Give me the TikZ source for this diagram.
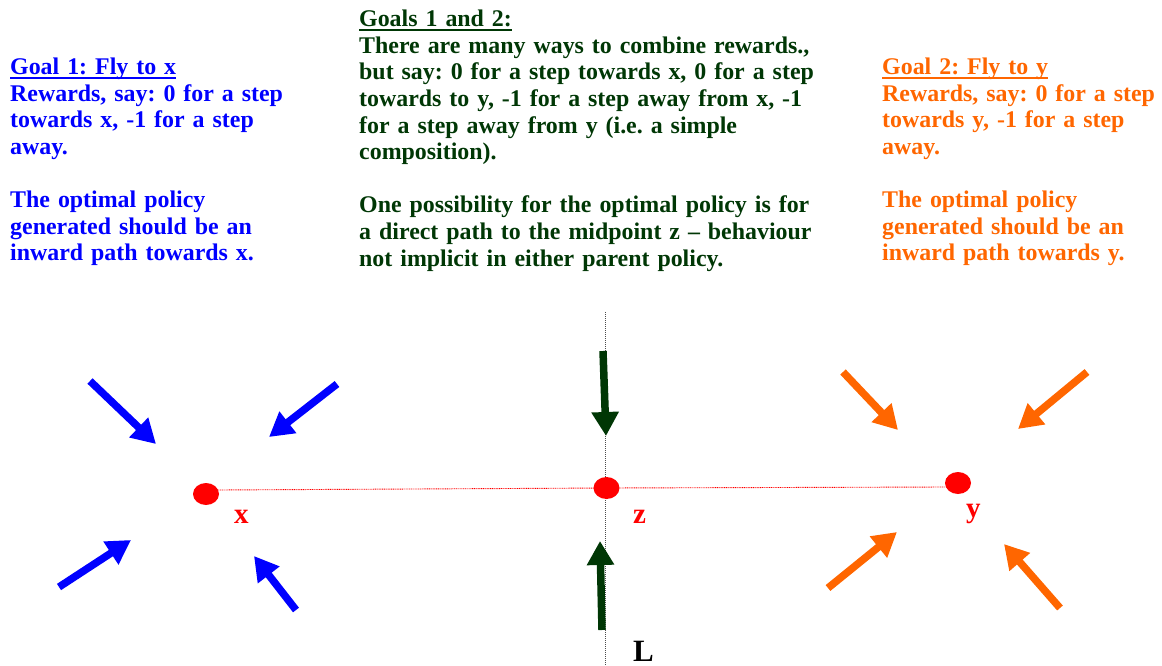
\documentclass[tikz,border=0pt]{standalone}
\usepackage{fontspec}
\setmainfont{Liberation Serif}
\usetikzlibrary{arrows.meta,shapes.geometric}
\definecolor{goalblue}{RGB}{0,0,255}
\definecolor{goalgreen}{RGB}{0,55,5}
\definecolor{goalorange}{RGB}{255,102,0}
\definecolor{dotred}{RGB}{255,0,0}
\newcommand{\goalul}[1]{\setbox0\hbox{#1}\rlap{\rule[-4.2pt]{\wd0}{2pt}}\box0}
\frenchspacing
\begin{document}
\begin{tikzpicture}[x=1pt,y=-1pt,
  txt/.style={anchor=base west, inner sep=0pt, align=left, text width=520pt,
    font=\fontsize{23.9}{26.6}\selectfont\bfseries\frenchspacing},
  dot/.style={ellipse, fill=dotred, draw=none, minimum width=26pt, minimum height=22pt, inner sep=0pt},
  lbl/.style={anchor=base west, inner sep=0pt, font=\fontsize{29}{30}\selectfont\bfseries},
  bigarrow/.style={line width=7.5pt, -{Triangle[width=26pt,length=24pt]}},
  bluearrow/.style={bigarrow, draw=goalblue},
  orangearrow/.style={bigarrow, draw=goalorange},
  greenarrow/.style={bigarrow, draw=goalgreen},
  reddots/.style={draw=dotred, line width=0.9pt, dash pattern=on 1pt off 0.8pt},
  greydots/.style={draw=black!70, line width=0.9pt, dash pattern=on 1pt off 1pt}]
\useasboundingbox (0,0) rectangle (1162,666);

% text blocks
\node[txt, text=goalblue] (goal1) at (10,74.5) {\goalul{Goal 1: Fly to x}\\
Rewards, say: 0 for a step\\
towards x, -1 for a step\\
away.\\[26.6pt]
The optimal policy\\
generated should be an\\
inward path towards x.};

\node[txt, text=goalgreen] (goal12) at (359,26.8) {\goalul{Goals 1 and 2:}\\
There are many ways to combine rewards.,\\
but say: 0 for a step towards x, 0 for a step\\
towards to y, -1 for a step away from x, -1\\
for a step away from y (i.e. a simple\\
composition).\\[26.6pt]
One possibility for the optimal policy is for\\
a direct path to the midpoint z -- behaviour\\
not implicit in either parent policy.};

\node[txt, text=goalorange] (goal2) at (882,74.5) {\goalul{Goal 2: Fly to y}\\
Rewards, say: 0 for a step\\
towards y, -1 for a step\\
away.\\[26.6pt]
The optimal policy\\
generated should be an\\
inward path towards y.};

% vertical line L
\coordinate (ltop) at (605,312);
\coordinate (lbot) at (605,666);
\draw[greydots] (ltop) -- (lbot);

% points
\node[dot] (x) at (206,494) {};
\node[dot] (z) at (606.5,488) {};
\node[dot] (y) at (958,483) {};
\draw[reddots] (x.18) -- (z.center) -- (y.198);

\node[lbl, text=dotred] (xl) at (234,523) {x};
\node[lbl, text=dotred] (zl) at (633,523) {z};
\node[lbl, text=dotred] (yl) at (966,517) {y};
\node[lbl, text=black, font=\fontsize{31}{32}\selectfont\bfseries] (Ll) at (633,661) {L};

% blue arrows
\coordinate (b1s) at (90,381);   \coordinate (b1e) at (156,444);
\coordinate (b2s) at (337,384);  \coordinate (b2e) at (269,437);
\coordinate (b3s) at (59,587);   \coordinate (b3e) at (131,540);
\coordinate (b4s) at (296,610);  \coordinate (b4e) at (254,556);
\draw[bluearrow] (b1s) -- (b1e);
\draw[bluearrow] (b2s) -- (b2e);
\draw[bluearrow] (b3s) -- (b3e);
\draw[bluearrow] (b4s) -- (b4e);

% orange arrows
\coordinate (o1s) at (843,372);  \coordinate (o1e) at (898,430);
\coordinate (o2s) at (1087,372); \coordinate (o2e) at (1018,429);
\coordinate (o3s) at (828,588);  \coordinate (o3e) at (897,532);
\coordinate (o4s) at (1060,608); \coordinate (o4e) at (1004,544);
\draw[orangearrow] (o1s) -- (o1e);
\draw[orangearrow] (o2s) -- (o2e);
\draw[orangearrow] (o3s) -- (o3e);
\draw[orangearrow] (o4s) -- (o4e);

% green arrows
\coordinate (g1s) at (603,351);  \coordinate (g1e) at (606,436);
\coordinate (g2s) at (602,630);  \coordinate (g2e) at (600,541);
\draw[greenarrow] (g1s) -- (g1e);
\draw[greenarrow] (g2s) -- (g2e);
\end{tikzpicture}
\end{document}
